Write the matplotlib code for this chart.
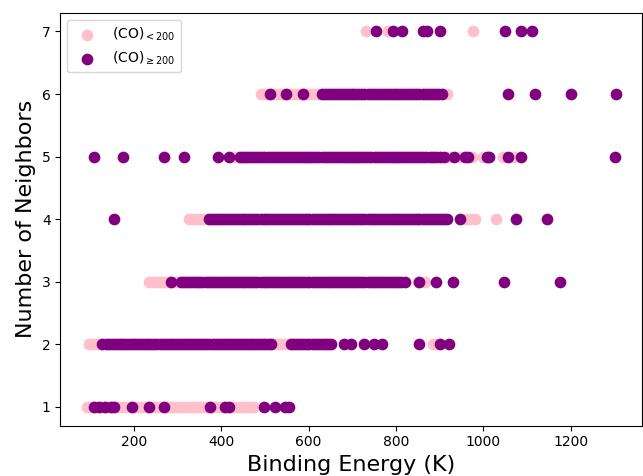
import matplotlib
matplotlib.use("Agg")
import matplotlib.pyplot as plt

# Binding energies (K) per number of neighbors, for (CO)<200 (low) and (CO)>=200 (high)
low_n1 = [92, 99, 106, 113, 120, 127, 134, 141, 148, 155, 162, 169, 176, 183, 190, 197,
          204, 211, 218, 225, 232, 239, 246, 253, 260, 267, 274, 281, 288, 295, 302, 309,
          316, 323, 330, 337, 344, 351, 358, 365, 372, 379, 386, 393, 400, 407, 414, 421,
          428, 435, 442, 449, 456, 463, 470, 474]
high_n1 = [108, 121, 134, 147, 155, 196, 234, 270, 374, 408, 418, 498, 524, 547, 555]

low_n2 = [98, 105, 112, 119, 126, 140, 170, 200, 230, 260, 290, 320, 350, 380, 410, 440,
          470, 500, 510, 517, 524, 531, 538, 545, 552, 560, 600, 640, 884, 892]
high_n2 = [128, 135, 142, 149, 156, 163, 170, 177, 184, 191, 198, 205, 212, 219, 226, 233,
           240, 247, 254, 261, 268, 275, 282, 289, 296, 303, 310, 317, 324, 331, 338, 345,
           352, 359, 366, 373, 380, 387, 394, 401, 408, 415, 422, 429, 436, 443, 450, 457,
           464, 471, 478, 485, 492, 499, 506, 515,
           560, 567, 574, 581, 588, 595, 602, 609, 616, 623, 630, 637, 644, 651,
           680, 697, 727, 749, 768, 854, 901, 922]

low_n3 = [234, 241, 248, 255, 262, 269, 276, 283, 290, 297, 304, 350, 400, 450, 500, 550,
          600, 650, 700, 750, 800, 850, 867]
high_n3 = [285, 308, 315, 322, 329, 336, 343, 350, 357, 364, 371, 378, 385, 392, 399, 406,
           413, 420, 427, 434, 441, 448, 455, 462, 469, 476, 483, 490, 497, 504, 511, 518,
           525, 532, 539, 546, 553, 560, 567, 574, 581, 588, 595, 602, 609, 616, 623, 630,
           637, 644, 651, 658, 665, 672, 679, 686, 693, 700, 707, 714, 721, 728, 735, 742,
           749, 756, 763, 770, 777, 784, 791, 798, 805, 812, 820,
           852, 892, 931, 1047, 1175]

low_n4 = [326, 333, 340, 347, 354, 361, 368, 400, 450, 500, 550, 600, 650, 700, 750, 800,
          850, 900, 960, 969, 981, 1030]
high_n4 = [155, 371, 378, 385, 392, 399, 406, 413, 420, 427, 434, 441, 448, 455, 462, 469,
           476, 483, 490, 497, 504, 511, 518, 525, 532, 539, 546, 553, 560, 567, 574, 581,
           588, 595, 602, 609, 616, 623, 630, 637, 644, 651, 658, 665, 672, 679, 686, 693,
           700, 707, 714, 721, 728, 735, 742, 749, 756, 763, 770, 777, 784, 791, 798, 805,
           812, 819, 826, 833, 840, 847, 854, 861, 868, 875, 882, 889, 896, 903, 910, 916,
           947, 1075, 1147]

low_n5 = [430, 440, 452, 500, 600, 700, 800, 900, 920, 945, 975, 1000, 1045, 1070]
high_n5 = [108, 176, 268, 314, 392, 418, 443, 450, 457, 464, 471, 478, 485, 492, 499, 506,
           513, 520, 527, 534, 541, 548, 555, 562, 569, 576, 583, 590, 597, 604, 611, 618,
           625, 632, 639, 646, 653, 660, 667, 674, 681, 688, 695, 702, 709, 716, 723, 730,
           737, 744, 751, 758, 765, 772, 779, 786, 793, 800, 807, 814, 821, 828, 835, 842,
           849, 856, 863, 870, 877, 884, 891, 901,
           909, 933, 958, 964, 1009, 1013, 1056, 1086, 1302]

low_n6 = [492, 499, 506, 513, 520, 527, 534, 541, 548, 555, 562, 569, 576, 583, 590, 597,
          604, 611, 618, 625, 700, 800, 900, 909, 916]
high_n6 = [511, 549, 587, 630, 637, 644, 651, 658, 665, 672, 679, 686, 693, 700, 707, 714,
           721, 728, 735, 742, 749, 756, 763, 770, 777, 784, 791, 798, 805, 812, 819, 826,
           833, 840, 847, 854, 861, 868, 875, 882, 889, 896, 905,
           1056, 1119, 1202, 1303]

low_n7 = [731, 782, 977]
high_n7 = [755, 794, 814, 862, 871, 901, 1049, 1086, 1111]

neighbors = [1, 2, 3, 4, 5, 6, 7]
low_rows = [low_n1, low_n2, low_n3, low_n4, low_n5, low_n6, low_n7]
high_rows = [high_n1, high_n2, high_n3, high_n4, high_n5, high_n6, high_n7]

low_x, low_y, high_x, high_y = [], [], [], []
for n, lo, hi in zip(neighbors, low_rows, high_rows):
    low_x += lo
    low_y += [n] * len(lo)
    high_x += hi
    high_y += [n] * len(hi)

fig = plt.figure(figsize=(6.43, 4.76), dpi=100)
ax = fig.add_axes([60.3 / 643, 1 - 425.7 / 476, (642 - 60.3) / 643, (425.7 - 12.7) / 476])

ax.scatter(low_x, low_y, s=55, color="pink", label=r"(CO)$_{<200}$")
ax.scatter(high_x, high_y, s=55, color="purple", label=r"(CO)$_{\geq 200}$")

ax.set_xlabel("Binding Energy (K)", fontsize=16)
ax.set_ylabel("Number of Neighbors", fontsize=16)
ax.set_xticks([200, 400, 600, 800, 1000, 1200])
ax.legend(loc="upper left", fontsize=10)

fig.savefig("out.png", dpi=100)
